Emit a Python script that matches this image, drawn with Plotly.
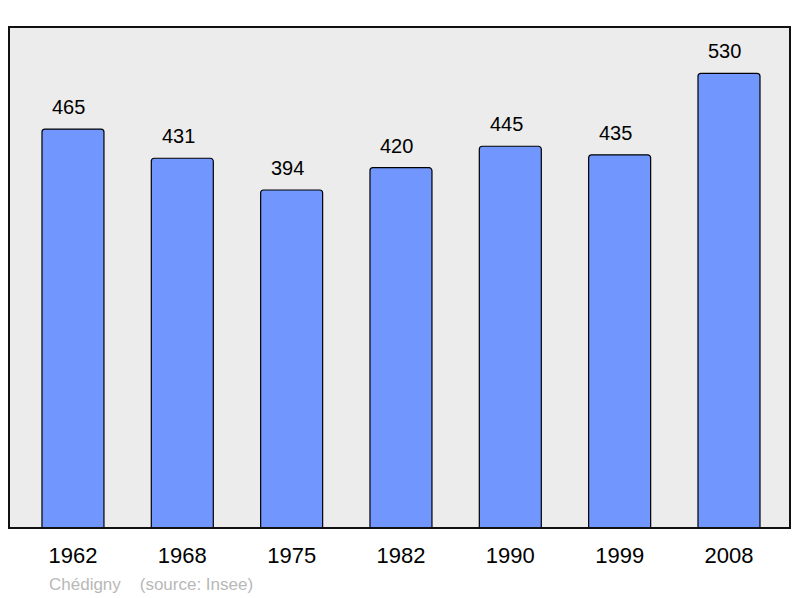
import plotly.graph_objects as go

years = ["1962", "1968", "1975", "1982", "1990", "1999", "2008"]
population = [465, 431, 394, 420, 445, 435, 530]
source_note = "Chédigny    (source: Insee)"

xs = list(range(len(years)))

fig = go.Figure()
fig.add_trace(go.Bar(
    x=xs, y=population, width=0.567,
    marker=dict(color="#7197ff", line=dict(color="#000000", width=1.2), cornerradius=3),
    hoverinfo="skip",
))

for x, v in zip(xs, population):
    fig.add_annotation(x=x, y=v, text=str(v), showarrow=False, yanchor="bottom",
                       yshift=9, xshift=-4,
                       font=dict(family="Liberation Sans, Arial", size=20, color="#000"))

fig.add_annotation(xref="paper", yref="paper", x=(47 - 9) / 781, y=-0.112, xanchor="left",
                   yanchor="middle", text=source_note, showarrow=False,
                   font=dict(family="Liberation Sans, Arial", size=17, color="#b8b8b8"))

fig.add_shape(type="rect", xref="paper", yref="paper", x0=0, y0=0, x1=1, y1=1,
              line=dict(color="#111", width=2), layer="above")

fig.update_layout(
    width=792, height=590,
    margin=dict(l=1, r=10, t=19, b=70),
    paper_bgcolor="#ffffff", plot_bgcolor="#ececec",
    showlegend=False,
    xaxis=dict(range=[-0.585, 6.558], tickvals=xs, ticktext=years, showgrid=False,
               zeroline=False, showline=False, ticks="", ticklabelstandoff=12,
               tickfont=dict(family="Liberation Sans, Arial", size=22, color="#000")),
    yaxis=dict(range=[0, 584], showgrid=False, zeroline=False, showticklabels=False,
               showline=False, ticks=""),
)

fig.write_html("out.html")
